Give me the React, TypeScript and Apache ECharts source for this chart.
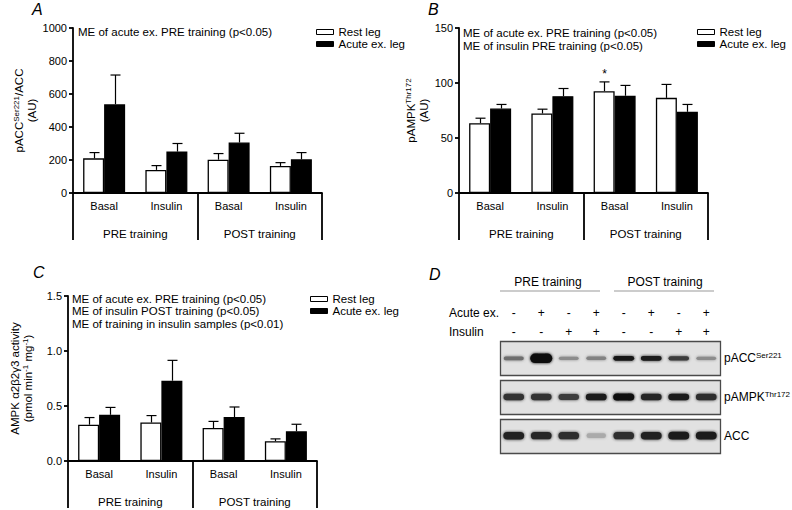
import React, { useEffect, useRef } from 'react';
import * as echarts from 'echarts';

const FONT = "'Liberation Sans', Arial, sans-serif";

const categories = ['Basal', 'Insulin', 'Basal', 'Insulin'];
const groups = ['PRE training', 'POST training'];
const legendNames = ['Rest leg', 'Acute ex. leg'];

// Panel A: pACC Ser221 / ACC (AU)
const restA = [210, 140, 202, 164];
const restASem = [35, 26, 37, 20];
const acuteA = [538, 251, 306, 204];
const acuteASem = [177, 49, 56, 41];
const notesA = ['ME of acute ex. PRE training (p<0.05)'];

// Panel B: pAMPK Thr172 (AU)
const restB = [63.5, 72.3, 92.6, 86.5];
const restBSem = [4.5, 3.9, 8.4, 12.2];
const acuteB = [76.8, 88.0, 88.4, 73.8];
const acuteBSem = [3.7, 7.0, 9.4, 6.7];
const restBMarks = ['', '', '*', ''];
const notesB = ['ME of acute ex. PRE training (p<0.05)', 'ME of insulin PRE training (p<0.05)'];

// Panel C: AMPK a2b2g3 activity
const restC = [0.33, 0.35, 0.3, 0.18];
const restCSem = [0.065, 0.063, 0.06, 0.021];
const acuteC = [0.42, 0.73, 0.4, 0.27];
const acuteCSem = [0.067, 0.185, 0.091, 0.064];
const notesC = [
  'ME of acute ex. PRE training (p<0.05)',
  'ME of insulin POST training (p<0.05)',
  'ME of training in insulin samples (p<0.01)',
];

// Panel D: western blot
const lanes = ['1', '2', '3', '4', '5', '6', '7', '8'];
const acuteSigns = ['-', '+', '-', '+', '-', '+', '-', '+'];
const insulinSigns = ['-', '-', '+', '+', '-', '-', '+', '+'];
const blotRows = ['pACC', 'pAMPK', 'ACC'];
const blotSup = ['Ser221', 'Thr172', ''];
const pACCSignal = [0.5, 2.8, 0.35, 0.4, 0.95, 0.92, 0.75, 0.35];
const pAMPKSignal = [0.8, 0.8, 0.75, 0.92, 1.0, 0.85, 0.9, 0.82];
const accSignal = [0.88, 0.85, 0.82, 0.2, 0.82, 0.88, 0.92, 0.9];
const blotSignals = [pACCSignal, pAMPKSignal, accSignal];

const BAR_W = 21;
const AXIS_W = 1.8;

function errSeries(id: string, xi: number, yi: number, means: number[], sems: number[], offset: number, marks?: string[]) {
  return {
    type: 'custom',
    id,
    name: id,
    xAxisIndex: xi,
    yAxisIndex: yi,
    z: 5,
    silent: true,
    data: means.map((m, i) => [i, m, m + sems[i]]),
    renderItem: (params: any, api: any) => {
      const c = api.coord([api.value(0), api.value(1)]);
      const t = api.coord([api.value(0), api.value(2)]);
      const x = Math.round(c[0] + offset) + 0.5;
      const children: any[] = [
        { type: 'line', shape: { x1: x, y1: c[1], x2: x, y2: t[1] }, style: { stroke: '#000', lineWidth: 1.2 } },
        { type: 'line', shape: { x1: x - 5, y1: t[1], x2: x + 5, y2: t[1] }, style: { stroke: '#000', lineWidth: 1.2 } },
      ];
      const mk = marks ? marks[params.dataIndex] : '';
      if (mk) {
        children.push({
          type: 'text',
          x,
          y: t[1] - 8,
          style: { text: mk, align: 'center', verticalAlign: 'middle', fontSize: 12, fontFamily: FONT, fill: '#000' },
        });
      }
      return { type: 'group', children };
    },
  };
}

function barSeries(name: string, xi: number, yi: number, data: number[], rest: boolean) {
  return {
    type: 'bar',
    name,
    xAxisIndex: xi,
    yAxisIndex: yi,
    data,
    barWidth: BAR_W,
    barGap: '0%',
    itemStyle: rest
      ? { color: '#fff', borderColor: '#000', borderWidth: 1.3 }
      : { color: '#000', borderColor: '#000', borderWidth: 1.3 },
    emphasis: { disabled: true },
  };
}

function catAxis(gridIndex: number) {
  return {
    type: 'category',
    gridIndex,
    data: categories,
    position: 'bottom',
    axisLine: { show: true, lineStyle: { color: '#000', width: AXIS_W } },
    axisTick: { show: false },
    axisLabel: { margin: 7, fontSize: 11, color: '#000', fontFamily: FONT },
    splitLine: { show: false },
  };
}

function groupAxis(gridIndex: number) {
  return {
    type: 'category',
    gridIndex,
    data: groups,
    position: 'bottom',
    axisLine: { show: false },
    axisTick: { show: true, length: 47, interval: 0, lineStyle: { color: '#000', width: AXIS_W } },
    axisLabel: { margin: 35, fontSize: 11.5, color: '#000', fontFamily: FONT },
    splitLine: { show: false },
  };
}

function valAxis(gridIndex: number, min: number, max: number, interval: number, name: string, nameGap: number, digits: number) {
  return {
    type: 'value',
    gridIndex,
    min,
    max,
    interval,
    name,
    nameLocation: 'middle',
    nameRotate: 90,
    nameGap,
    nameTextStyle: {
      fontSize: 11.5,
      lineHeight: 13,
      color: '#000',
      fontFamily: FONT,
      rich: {
        sup: { fontSize: 8, lineHeight: 8, verticalAlign: 'top', color: '#000', fontFamily: FONT },
      },
    },
    axisLine: { show: true, lineStyle: { color: '#000', width: AXIS_W } },
    axisTick: { show: true, length: 4, lineStyle: { color: '#000', width: AXIS_W } },
    axisLabel: {
      margin: 6,
      fontSize: 11,
      color: '#000',
      fontFamily: FONT,
      formatter: (v: number) => v.toFixed(digits),
    },
    splitLine: { show: false },
  };
}

function legendAt(left: number, top: number) {
  return {
    left,
    top,
    orient: 'vertical',
    padding: 0,
    itemGap: 0,
    itemWidth: 17,
    itemHeight: 5,
    selectedMode: false,
    icon: 'rect',
    textStyle: { fontSize: 11.5, lineHeight: 10, color: '#000', fontFamily: FONT, padding: [0, 0, 0, 0] },
    data: [
      { name: legendNames[0], itemStyle: { color: '#fff', borderColor: '#000', borderWidth: 1 } },
      { name: legendNames[1], itemStyle: { color: '#000', borderColor: '#000', borderWidth: 1 } },
    ],
  };
}

function notes(lines: string[], x: number, y0: number, step: number) {
  return lines.map((t, i) => ({
    type: 'text',
    x,
    y: y0 + i * step,
    silent: true,
    style: { text: t, fontSize: 11.5, fontFamily: FONT, fill: '#000', align: 'left', verticalAlign: 'middle' },
  }));
}

function letter(t: string, x: number, y: number) {
  return {
    type: 'text',
    x,
    y,
    silent: true,
    style: { text: t, fontSize: 16, fontStyle: 'italic', fontFamily: FONT, fill: '#000', align: 'left', verticalAlign: 'middle' },
  };
}

const BLOT = { left: 500, top: 339, width: 220, height: 116 };

export default function App() {
  const ref = useRef<HTMLDivElement>(null);
  useEffect(() => {
    if (!ref.current) return;
    const chart = echarts.init(ref.current, undefined, { renderer: 'svg' });

    const laneW = BLOT.width / lanes.length;
    const signTexts: any[] = [];
    lanes.forEach((_, i) => {
      const x = BLOT.left + (i + 0.5) * laneW;
      signTexts.push({ type: 'text', x, y: 313, silent: true, style: { text: acuteSigns[i], fontSize: 12, fontFamily: FONT, fill: '#000', align: 'center', verticalAlign: 'middle' } });
      signTexts.push({ type: 'text', x, y: 332, silent: true, style: { text: insulinSigns[i], fontSize: 12, fontFamily: FONT, fill: '#000', align: 'center', verticalAlign: 'middle' } });
    });

    const bandData: any[] = [];
    blotSignals.forEach((row, r) => row.forEach((s, l) => bandData.push([l, r, s])));
    const rowBase = [5, 7, 8];

    const option: any = {
      animation: false,
      backgroundColor: '#fff',
      textStyle: { fontFamily: FONT },
      grid: [
        { left: 73, top: 28, width: 249, height: 165, outerBoundsMode: 'none' },
        { left: 459, top: 28, width: 249, height: 165, outerBoundsMode: 'none' },
        { left: 68, top: 296, width: 249, height: 165, outerBoundsMode: 'none' },
        { left: BLOT.left, top: BLOT.top, width: BLOT.width, height: BLOT.height, outerBoundsMode: 'none' },
      ],
      legend: [legendAt(316, 26), legendAt(697, 26), legendAt(310, 293)],
      xAxis: [
        catAxis(0), groupAxis(0),
        catAxis(1), groupAxis(1),
        catAxis(2), groupAxis(2),
        { type: 'category', gridIndex: 3, data: lanes, show: false },
      ],
      yAxis: [
        valAxis(0, 0, 1000, 200, 'pACC{sup|Ser221}/ACC\n(AU)', 34, 0),
        valAxis(1, 0, 150, 50, 'pAMPK{sup|Thr172}\n(AU)', 29, 0),
        valAxis(2, 0, 1.5, 0.5, 'AMPK α2β2γ3 activity\n(pmol min{sup|-1} mg{sup|-1})', 34, 1),
        {
          type: 'category',
          gridIndex: 3,
          data: blotRows,
          inverse: true,
          position: 'right',
          axisLine: { show: false },
          axisTick: { show: false },
          splitLine: { show: false },
          axisLabel: {
            margin: 4,
            formatter: (v: string, i: number) => (blotSup[i] ? `{b|${v}}{s|${blotSup[i]}}` : `{b|${v}}`),
            rich: {
              b: { fontSize: 12, lineHeight: 14, color: '#000', fontFamily: FONT },
              s: { fontSize: 8, lineHeight: 8, verticalAlign: 'top', color: '#000', fontFamily: FONT },
            },
          },
        },
      ],
      series: [
        barSeries(legendNames[0], 0, 0, restA, true),
        barSeries(legendNames[1], 0, 0, acuteA, false),
        errSeries('errARest', 0, 0, restA, restASem, -BAR_W / 2),
        errSeries('errAAcute', 0, 0, acuteA, acuteASem, BAR_W / 2),
        barSeries(legendNames[0], 2, 1, restB, true),
        barSeries(legendNames[1], 2, 1, acuteB, false),
        errSeries('errBRest', 2, 1, restB, restBSem, -BAR_W / 2, restBMarks),
        errSeries('errBAcute', 2, 1, acuteB, acuteBSem, BAR_W / 2),
        barSeries(legendNames[0], 4, 2, restC, true),
        barSeries(legendNames[1], 4, 2, acuteC, false),
        errSeries('errCRest', 4, 2, restC, restCSem, -BAR_W / 2),
        errSeries('errCAcute', 4, 2, acuteC, acuteCSem, BAR_W / 2),
        {
          type: 'custom',
          id: 'blotFrames',
          xAxisIndex: 6,
          yAxisIndex: 3,
          z: 1,
          silent: true,
          data: blotRows.map((_, r) => [0, r]),
          renderItem: (params: any, api: any) => {
            const cs = params.coordSys;
            const c = api.coord([0, api.value(1)]);
            return {
              type: 'rect',
              shape: { x: cs.x + 0.5, y: Math.round(c[1] - 17) + 0.5, width: cs.width, height: 34 },
              style: { fill: '#e1e1e1', stroke: '#4a4a4a', lineWidth: 1.3 },
            };
          },
        },
        {
          type: 'custom',
          id: 'blotBands',
          xAxisIndex: 6,
          yAxisIndex: 3,
          z: 2,
          silent: true,
          data: bandData,
          renderItem: (params: any, api: any) => {
            const l = api.value(0);
            const r = api.value(1);
            const s = api.value(2);
            const c = api.coord([l, r]);
            const h = rowBase[r] * (0.5 + 0.5 * s);
            const w = 19 + 2 * Math.min(s, 1.5);
            const g = Math.round(210 - 200 * Math.min(s, 1));
            const col = `rgb(${g},${g},${g})`;
            return {
              type: 'rect',
              shape: { x: c[0] - w / 2, y: c[1] - h / 2, width: w, height: h, r: h / 2 },
              style: { fill: col, shadowBlur: 3, shadowColor: col },
            };
          },
        },
      ],
      graphic: [
        letter('A', 32, 9),
        letter('B', 428, 9),
        letter('C', 33, 272),
        letter('D', 429, 274),
        ...notes(notesA, 78, 32, 12.5),
        ...notes(notesB, 463, 33, 12.5),
        ...notes(notesC, 72, 298.5, 12.6),
        { type: 'text', x: 548, y: 282, silent: true, style: { text: groups[0], fontSize: 12, fontFamily: FONT, fill: '#000', align: 'center', verticalAlign: 'middle' } },
        { type: 'text', x: 665, y: 282, silent: true, style: { text: groups[1], fontSize: 12, fontFamily: FONT, fill: '#000', align: 'center', verticalAlign: 'middle' } },
        { type: 'line', silent: true, shape: { x1: 500, y1: 291, x2: 600, y2: 291 }, style: { stroke: '#999', lineWidth: 1 } },
        { type: 'line', silent: true, shape: { x1: 614, y1: 291, x2: 714, y2: 291 }, style: { stroke: '#999', lineWidth: 1 } },
        { type: 'text', x: 449, y: 313, silent: true, style: { text: 'Acute ex.', fontSize: 12, fontFamily: FONT, fill: '#000', align: 'left', verticalAlign: 'middle' } },
        { type: 'text', x: 449, y: 332, silent: true, style: { text: 'Insulin', fontSize: 12, fontFamily: FONT, fill: '#000', align: 'left', verticalAlign: 'middle' } },
        ...signTexts,
      ],
    };
    chart.setOption(option);
    return () => chart.dispose();
  }, []);
  return <div ref={ref} style={{ position: 'fixed', left: 0, top: 0, width: 792, height: 510 }} />;
}
